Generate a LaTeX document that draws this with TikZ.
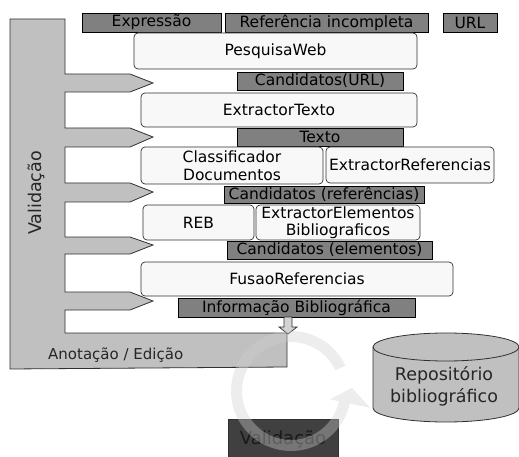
\documentclass[tikz,border=0pt]{standalone}
\usepackage{fontspec}
\setmainfont{DejaVu Sans}
\usetikzlibrary{calc}
\definecolor{lblgray}{HTML}{808080}
\definecolor{valgray}{HTML}{C0C0C0}
\definecolor{procfill}{HTML}{F8F8F8}
\definecolor{darkbox}{HTML}{404040}
\definecolor{arcgray}{HTML}{CFCFCF}
\definecolor{edge}{HTML}{303030}
\begin{document}
\begin{tikzpicture}[x=1pt,y=-1pt,
  lbl/.style={draw=black, line width=0.8pt, fill=lblgray, inner sep=0pt,
    font=\fontsize{15.5}{18}\selectfont},
  proc/.style={draw=edge, line width=0.7pt, fill=procfill, rounded corners=4pt,
    inner sep=0pt, align=center, font=\fontsize{15.5}{17.5}\selectfont},
  txt/.style={inner sep=0pt, text=black!85, font=\fontsize{15}{18}\selectfont}
]
\useasboundingbox (0,0) rectangle (519,457);

% Validation L-shaped band with tabs
\draw[fill=valgray, draw=edge, line width=0.8pt, line join=miter]
  (10,19) -- (65,19) -- (65,74) -- (130,74) -- (153,83) -- (130,92) -- (65,92)
  -- (65,128) -- (130,128) -- (153,137) -- (130,147) -- (65,147)
  -- (65,183) -- (130,183) -- (153,192) -- (130,202) -- (65,202)
  -- (65,237) -- (130,237) -- (153,245) -- (130,254) -- (65,254)
  -- (65,292) -- (130,292) -- (153,301) -- (130,310) -- (65,310)
  -- (65,333) -- (287,333) -- (287,367) -- (10,369) -- cycle;
\node[txt, rotate=90, font=\fontsize{17.5}{20}\selectfont] (valside) at (36,193) {Validação};
\node[txt, anchor=west] (anot) at (48,355) {Anotação / Edição};

% input labels
\node[lbl, minimum width=139pt, minimum height=19pt] (expr) at (151.5,22.5) {Expressão};
\node[lbl, minimum width=203pt, minimum height=19pt] (ref) at (326.5,22.5) {Referência incompleta};
\node[lbl, minimum width=54pt, minimum height=19pt] (url) at (470,22.5) {URL};

% processes
\node[proc, minimum width=283pt, minimum height=36pt] (pesq) at (275.5,51) {PesquisaWeb};
\node[lbl, minimum width=166pt, minimum height=18pt] (candurl) at (320,81) {Candidatos(URL)};
\node[proc, minimum width=276pt, minimum height=34pt] (extt) at (279,110) {ExtractorTexto};
\node[lbl, minimum width=166pt, minimum height=18pt] (texto) at (320,137) {Texto};
\node[proc, minimum width=182pt, minimum height=37pt] (class) at (232,165.5) {Classificador\\Documentos};
\node[proc, minimum width=168pt, minimum height=36pt] (extr) at (410,165) {ExtractorReferencias};
\node[lbl, minimum width=200pt, minimum height=17pt] (candref) at (324,194.5) {Candidatos (referências)};
\node[proc, minimum width=111pt, minimum height=35pt] (reb) at (198.5,222.5) {REB};
\node[proc, minimum width=164pt, minimum height=35pt] (exel) at (338,222.5) {ExtractorElementos\\Bibliograficos};
\node[lbl, minimum width=205pt, minimum height=18pt] (candel) at (329.5,250) {Candidatos (elementos)};
\node[proc, minimum width=312pt, minimum height=34pt] (fusao) at (297,279) {FusaoReferencias};
\node[lbl, minimum width=237pt, minimum height=19pt] (info) at (296.5,307.5) {Informação Bibliográfica};

% small down arrow
\coordinate (ar) at (288,317);
\draw[fill=valgray!70, draw=edge, line width=0.7pt]
  ($(ar)+(-4,0)$) -- ($(ar)+(4,0)$) -- ($(ar)+(4,10)$) -- ($(ar)+(9,10)$)
  -- ($(ar)+(0,17)$) -- ($(ar)+(-9,10)$) -- ($(ar)+(-4,10)$) -- cycle;

% repository cylinder
\draw[fill=valgray, draw=edge, line width=0.8pt]
  (373,347) -- (373,408) arc[start angle=180, end angle=0, x radius=73, y radius=14]
  -- (519,347) arc[start angle=0, end angle=-180, x radius=73, y radius=14] -- cycle;
\draw[draw=edge, line width=0.8pt]
  (373,347) arc[start angle=180, end angle=0, x radius=73, y radius=14];
\node[txt, align=center, font=\fontsize{17.5}{22}\selectfont] (repo) at (444,386) {Repositório\\bibliográfico};

% bottom validation box
\node[fill=darkbox, draw=edge, line width=0.6pt, minimum width=110pt, minimum height=40pt,
  inner sep=0pt, text=black!90, font=\fontsize{18}{20}\selectfont] (valbot) at (283,439) {Validação};

% circular arrow
\coordinate (C) at (291,391);
\fill[arcgray, opacity=0.38]
  ($(C)+(-25:60)$) arc[start angle=-25, end angle=-348, radius=60]
  -- ($(C)+(-348:81)$) -- ($(C)+(-363:61)$) -- ($(C)+(-348:40)$) -- ($(C)+(-348:49)$)
  arc[start angle=-348, end angle=-25, radius=49] -- cycle;
\end{tikzpicture}
\end{document}
